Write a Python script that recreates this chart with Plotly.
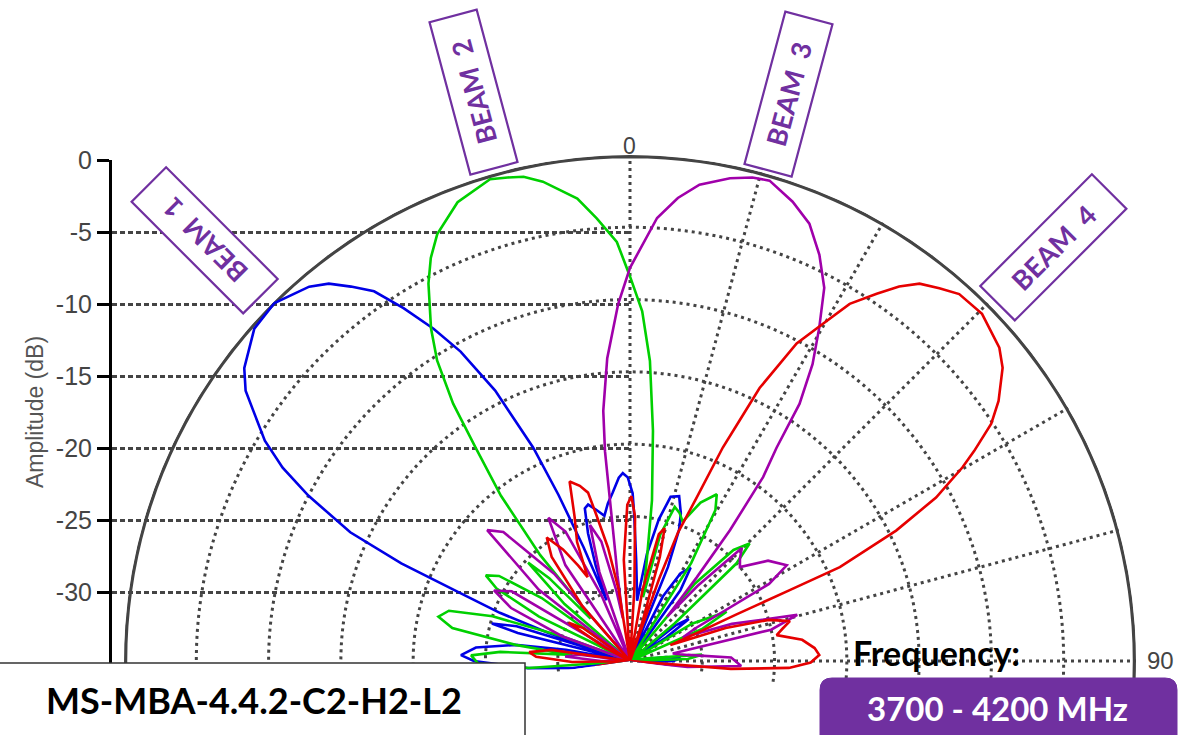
import plotly.graph_objects as go

# ---------------- data (angle in degrees, amplitude in dB) ----------------
beam1_theta = [-115, -105, -97, -94, -90, -88, -85, -82, -80, -78, -76, -74.8, -73, -72, -71,
               -69.7, -68.2, -66.9, -65.3, -62.8, -60.9, -58.9, -54.9, -52.8, -48.5, -44.8,
               -40.6, -38.6, -36.7, -34.7, -32.7, -30.6, -28.7, -26.5, -24.4, -23.3, -22.2,
               -21.2, -19.8, -18.2, -16.5, -15, -12.5, -10, -8, -5.9, -3.5, -2.2, -0.7, 0.9,
               1.7, 3.5, 5.5, 6.7, 9, 11.5, 13.9, 16.6, 19, 20.5, 22, 24, 27, 30, 33, 35.5,
               38, 48, 52, 54.5, 57, 62, 80, 84, 87, 90, 93, 100, 107, 110, 114, 118]
beam1_db = [-35, -35, -31, -27.9, -24.2, -23.3, -24.3, -27, -30.5, -35, -27, -25.1, -26.8, -35, -29,
            -25.4, -22.4, -17.8, -13.7, -10, -7.5, -5.5, -2.5, -1.5, -0.3, -0.1,
            -0.9, -1.6, -2.7, -3.9, -6, -8.3, -10.6, -14.1, -18.8, -22.5, -26.5,
            -30.5, -28, -25.7, -24, -23.8, -24.3, -24.8, -24, -23.3, -22.3, -22, -22.3, -23.4,
            -25, -28, -30, -30.8, -27.5, -25, -23.3, -23.1, -24.2, -25.3, -28, -35, -30, -28, -27.3, -29,
            -35, -35, -31, -30, -32, -35, -35, -32.5, -31.5, -32, -33.5, -35, -33.5, -32, -34, -35]

beam2_theta = [-122, -117, -114, -111, -106, -97, -94, -91, -88, -86, -84, -82, -79.5, -77, -74.5,
               -72, -70, -67, -64, -61.5, -59.3, -57, -54.5, -52, -49, -46, -44.3, -43, -41.4,
               -40.3, -38, -35.9, -34.5, -32.7, -30.9, -28.1, -26.3, -24.3, -20.6, -16.2, -14.2,
               -12.4, -10.3, -6.5, -4.3, -1.8, 0, 2, 3.8, 5.7, 7.8, 9.5, 11.5, 13.5, 16.2, 18.5,
               20.7, 24, 27.5, 29.5, 32, 34.5, 40, 43, 45.5, 47.5, 50, 54, 59, 63, 66, 70, 80,
               85, 88, 92, 108, 116, 121]
beam2_db = [-35, -31, -30, -32, -35, -35, -28, -24.5, -24, -26, -31, -27, -22.5, -21.4, -22,
            -25, -30, -35, -28, -24.5, -23.4, -24.2, -27.5, -35, -29, -25.2, -27, -31, -30,
            -25.4, -20.5, -16.8, -13.4, -10.3, -8.2, -5.4, -3.9, -2.6, -1.1, -0.3, -0.5,
            -0.7, -1.3, -2.8, -4.3, -6, -8.4, -10.8, -14.2, -19, -23.8, -28, -30.5, -26, -23.9, -24.2,
            -24.7, -23, -22, -23, -27, -35, -28, -24.5, -23.4, -25, -31, -35, -30, -27.5, -29.5, -35, -34,
            -30, -31, -35, -34, -31.4, -35]

beam3_theta = [-118, -111, -106, -90, -86, -83, -79, -70, -66, -62.6, -59.5, -56, -52, -47.5, -44.5,
               -41, -38, -34, -29.7, -26.5, -23.5, -21, -19, -16.4, -13.5, -11, -9.5, -8.3, -7.7,
               -7.1, -6.8, -6.1, -4.3, -1.9, 0, 3.5, 5.9, 8.3, 11.7, 14.2, 16.2, 19.5, 22.3, 25,
               27.5, 29.6, 31.6, 33.4, 34.5, 35.9, 37.4, 38.6, 40, 42, 44.7, 47, 49.5, 54, 58.6,
               61, 63.5, 66, 70, 74.6, 77.5, 80, 84, 88, 92.6, 96, 100, 110, 114.8, 118]
beam3_db = [-35, -30.7, -35, -33, -30.5, -31.5, -35, -30, -26, -24.4, -25.5, -35, -27, -21.6, -22.5,
            -27, -35, -27, -23.6, -25, -30, -35, -28.5, -25.2, -26.5, -30, -32, -29, -27.3,
            -23.8, -20.4, -17.6, -14, -10.3, -7.8, -4.3, -2.8, -1.7, -0.9, -0.5, -0.4, -1.3, -2.3, -4,
            -5.9, -8.5, -10.9, -13.7, -17.1, -19.3, -23.6, -27.6, -31, -28, -24, -24.6, -25, -23.2, -22.3,
            -24, -30, -31, -27.5, -23, -25, -32, -31, -28, -27.3, -31, -35, -32.5, -30, -35]

beam4_theta = [-112, -105, -102.5, -99, -95, -91, -87.5, -85, -82, -79, -62, -58, -55, -50, -41,
               -37, -34, -31, -28.5, -26.8, -24, -21, -18.6, -16, -14, -13, -11, -9, -7, -3.5,
               -1, 0.5, 2, 3.5, 5, 10, 12.8, 14.6, 16, 17.5, 18.7, 19.5, 20.5, 22.2, 23.5, 24.5,
               25.4, 27.7, 29.7, 31.6, 33.9, 35.7, 37.5, 39.7, 41.9, 45.4, 49.7, 51.8, 54.8, 56.7,
               58.6, 59.8, 61.9, 63.9, 65.9, 66.1, 66.4, 67.3, 68.5, 71, 73.5, 76, 78, 80, 83, 86,
               88.2, 90.5, 92.5, 94.5, 97, 110]
beam4_db = [-35, -32, -30.5, -33, -35, -31, -28.5, -28, -29.5, -35, -33, -30, -31, -35, -30,
            -26, -24.7, -26, -27.5, -28.5, -26, -24.3, -21.9, -22.4, -23, -24.6, -27, -30, -35, -28,
            -24.2, -23.6, -25, -30, -35, -30, -26, -25.5, -27.5, -32, -35, -29, -25.5, -22.8, -18.9, -16.7,
            -14.1, -10.2, -8.2, -6, -4.4, -3.1, -2.1, -1.5, -0.9, -0.8, -1.5, -2.2, -3.8, -5.1,
            -7.1, -8.4, -11, -14.5, -19.1, -23, -27, -30, -32, -28, -25, -23.6, -24.2, -24.7, -23, -22.2,
            -21.9, -22.5, -24, -28, -35, -35]

beam_names = ["BEAM 1", "BEAM 2", "BEAM 3", "BEAM 4"]
beam_colors = ["#0000E6", "#00D000", "#A000AA", "#E60000"]

amp_ticks = [-35, -30, -25, -20, -15, -10, -5, 0]
amp_labels = ["", "-30", "-25", "-20", "-15", "-10", "-5", "0"]
ring_ticks = [-30, -25, -20, -15, -10, -5, 0]
angle_ticks = list(range(0, 360, 15))
angle_label_top = "0"
angle_label_right = "90"

# outer boundary of the polar plot (0 dB circle) drawn as the axis line
outer_theta = list(range(-110, 111, 2))
outer_r = [-0.1] * len(outer_theta)

model_text = "MS-MBA-4.4.2-C2-H2-L2"
freq_title = "Frequency:"
freq_text = "3700 - 4200 MHz"

# ---------------- figure ----------------
W, H = 1185, 735
PURPLE = "#7030A0"
GRID = "#444444"

fig = go.Figure()

# invisible trace to activate the left amplitude axis
fig.add_trace(go.Scatter(x=[0, 1], y=[amp_ticks[0], amp_ticks[-1]], mode="markers",
                         marker=dict(opacity=0), showlegend=False, hoverinfo="skip",
                         xaxis="x", yaxis="y"))

# outer solid arc
fig.add_trace(go.Scatterpolar(theta=outer_theta, r=outer_r, mode="lines",
                              line=dict(color=GRID, width=3.5), showlegend=False,
                              hoverinfo="skip"))

for th, db, name, col in zip([beam1_theta, beam2_theta, beam3_theta, beam4_theta],
                             [beam1_db, beam2_db, beam3_db, beam4_db],
                             beam_names, beam_colors):
    fig.add_trace(go.Scatterpolar(theta=th, r=db, mode="lines", name=name,
                                  line=dict(color=col, width=2.6), showlegend=False))

def px_x(v):
    return v / W

def px_y(v):
    return 1 - v / H

fig.update_layout(
    template="none",
    width=W, height=H,
    margin=dict(l=0, r=0, t=0, b=0, pad=0, autoexpand=False),
    showlegend=False,
    paper_bgcolor="white", plot_bgcolor="rgba(0,0,0,0)",
    font=dict(family="Liberation Sans, Arial, sans-serif", color=GRID),
    xaxis=dict(domain=[px_x(112), px_x(630)], range=[0, 1], visible=False, fixedrange=True,
               automargin=False),
    yaxis=dict(domain=[px_y(664), px_y(160)], range=[-35, 0], tickmode="array",
               tickvals=amp_ticks, ticktext=amp_labels, showline=True, linecolor="black",
               linewidth=3, ticks="outside", ticklen=12, tickwidth=3, tickcolor="black",
               showgrid=True, gridcolor=GRID, gridwidth=3, griddash="5px,3px",
               zeroline=False, tickfont=dict(size=25, color=GRID), automargin=False,
               title=dict(text="Amplitude (dB)", font=dict(size=23, color="#555555"), standoff=6),
               fixedrange=True),
    polar=dict(
        domain=dict(x=[px_x(118), px_x(1142)], y=[px_y(734), px_y(155)]),
        sector=[-8.3, 188.3],
        bgcolor="rgba(0,0,0,0)",
        radialaxis=dict(range=[-35, 0], tickmode="array", tickvals=ring_ticks,
                        showticklabels=False, ticks="", showline=False,
                        gridcolor=GRID, gridwidth=3, griddash="3px,4px"),
        angularaxis=dict(rotation=90, direction="clockwise", tickmode="array",
                         tickvals=angle_ticks, showticklabels=False, ticks="",
                         showline=False,
                         gridcolor=GRID, gridwidth=3, griddash="3px,4px"),
    ),
)

# angular axis labels (placed tight to the arc as in the reference)
fig.add_annotation(x=px_x(630), y=px_y(146), xref="paper", yref="paper", text=angle_label_top,
                   showarrow=False, xanchor="center", yanchor="middle",
                   font=dict(size=23, color=GRID))
fig.add_annotation(x=px_x(1145), y=px_y(660), xref="paper", yref="paper", text=angle_label_right,
                   showarrow=False, xanchor="left", yanchor="middle",
                   font=dict(size=24, color=GRID))

# beam label boxes (rotated annotations)
beam_boxes = [(205, 240, -135), (474, 92, -105), (788, 94, -75), (1053, 247, -45)]
for name, (cx, cy, ang) in zip(beam_names, beam_boxes):
    fig.add_annotation(x=px_x(cx), y=px_y(cy), xref="paper", yref="paper",
                       text=name.replace(" ", "&nbsp;&nbsp;"), showarrow=False,
                       textangle=ang, width=154, height=45,
                       bordercolor=PURPLE, borderwidth=2.2, bgcolor="white",
                       font=dict(family="Lato, sans-serif", size=27, color=PURPLE, weight="bold"),
                       xanchor="center", yanchor="middle")

# bottom-left model box
fig.add_shape(type="rect", xref="paper", yref="paper",
              x0=px_x(-2), x1=px_x(525), y0=px_y(760), y1=px_y(663),
              line=dict(color="#333333", width=1.5), fillcolor="white", layer="above")
fig.add_annotation(x=px_x(254), y=px_y(700), xref="paper", yref="paper", text=model_text,
                   showarrow=False, xanchor="center", yanchor="middle",
                   font=dict(family="Lato, sans-serif", size=36, color="black", weight="bold"))

# frequency label and purple rounded box
fig.add_annotation(x=px_x(936), y=px_y(652), xref="paper", yref="paper", text=freq_title,
                   showarrow=False, xanchor="center", yanchor="middle",
                   font=dict(family="Lato, sans-serif", size=34, color="black", weight="bold"))

x0, x1, y0, y1 = px_x(820), px_x(1177), px_y(760), px_y(678)
rx, ry = 12 / W, 12 / H
path = (f"M {x0+rx},{y1} L {x1-rx},{y1} Q {x1},{y1} {x1},{y1-ry} L {x1},{y0+ry} "
        f"Q {x1},{y0} {x1-rx},{y0} L {x0+rx},{y0} Q {x0},{y0} {x0},{y0+ry} "
        f"L {x0},{y1-ry} Q {x0},{y1} {x0+rx},{y1} Z")
fig.add_shape(type="path", xref="paper", yref="paper", path=path,
              fillcolor=PURPLE, line=dict(color=PURPLE, width=1), layer="above")
fig.add_annotation(x=px_x(997), y=px_y(708), xref="paper", yref="paper", text=freq_text,
                   showarrow=False, xanchor="center", yanchor="middle",
                   font=dict(family="Lato, sans-serif", size=33, color="white", weight="bold"))

fig.write_html("out.html", config={"displayModeBar": False},
               post_script="document.body.style.margin='0px';document.body.style.overflow='hidden';")
